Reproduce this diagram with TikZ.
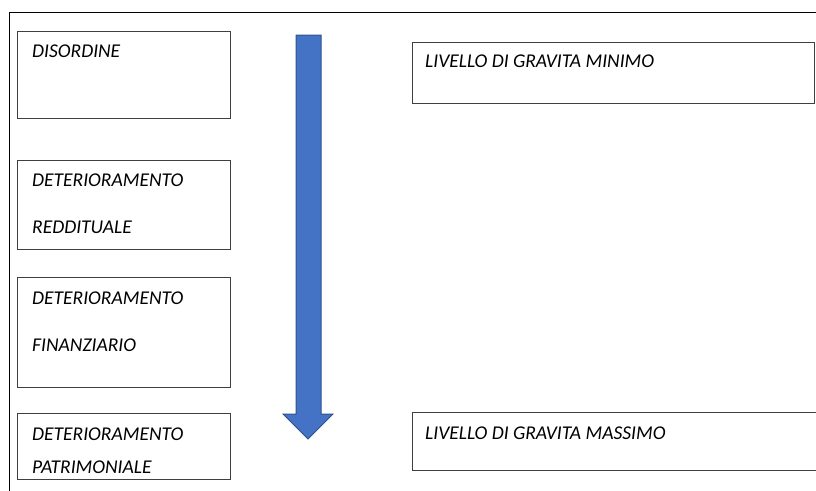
\documentclass[tikz,border=0pt]{standalone}
\usepackage{fontspec}
\setmainfont{Carlito}
\definecolor{arrowfill}{HTML}{4472C4}
\definecolor{arrowline}{HTML}{2F528F}
\definecolor{boxline}{HTML}{404040}
\begin{document}
\begin{tikzpicture}[x=1pt,y=-1pt,
  box/.style={draw=boxline, line width=1pt, anchor=north west, inner sep=0pt, fill=white},
  lbl/.style={anchor=base west, inner sep=0pt, font=\fontsize{19.5}{22}\selectfont\itshape}]
\useasboundingbox (0,0) rectangle (816,490);
\clip (0,0) rectangle (816,490);
% outer frame (top and left)
\coordinate (ftr) at (820,12);
\coordinate (ftl) at (9,12);
\coordinate (fbl) at (9,495);
\draw[line width=1pt] (ftr) -- (ftl) -- (fbl);
% left boxes
\node[box, minimum width=213pt, minimum height=87pt] (b1) at (17,31) {};
\node[box, minimum width=213pt, minimum height=89pt] (b2) at (17,160) {};
\node[box, minimum width=213pt, minimum height=110pt] (b3) at (17,277) {};
\node[box, minimum width=213pt, minimum height=66pt] (b4) at (17,413) {};
\node[lbl] (t1) at (32,57) {DISORDINE};
\node[lbl] (t2a) at (32,186) {DETERIORAMENTO};
\node[lbl] (t2b) at (32,233) {REDDITUALE};
\node[lbl] (t3a) at (32,304) {DETERIORAMENTO};
\node[lbl] (t3b) at (32,351) {FINANZIARIO};
\node[lbl] (t4a) at (32,440) {DETERIORAMENTO};
\node[lbl] (t4b) at (32,473) {PATRIMONIALE};
% right boxes
\node[box, minimum width=402pt, minimum height=61pt] (r1) at (412,42) {};
\node[box, minimum width=420pt, minimum height=58pt] (r2) at (412,412) {};
\node[lbl] (tr1) at (425,67) {LIVELLO DI GRAVITA MINIMO};
\node[lbl] (tr2) at (425,439) {LIVELLO DI GRAVITA MASSIMO};
% big down arrow
\draw[fill=arrowfill, draw=arrowline, line width=1pt, line join=miter]
  (296,35) -- (321,35) -- (321,414) -- (333,414) -- (308,439) -- (283,414) -- (296,414) -- cycle;
\end{tikzpicture}
\end{document}
